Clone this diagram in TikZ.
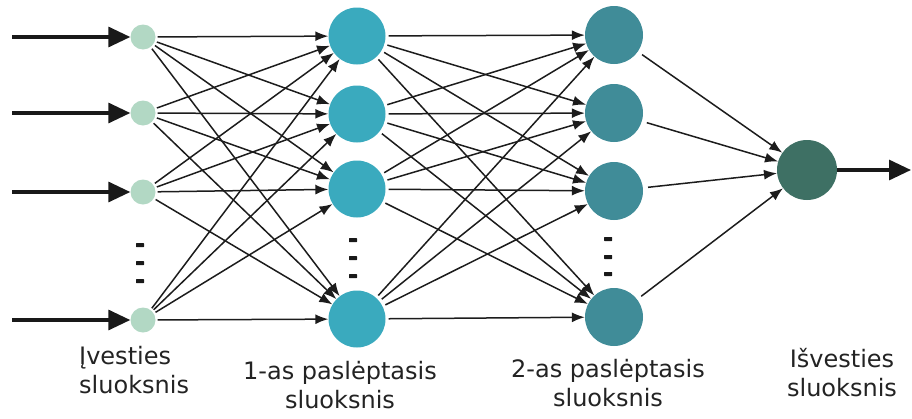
\documentclass[tikz,border=0pt]{standalone}
\usepackage{fontspec}
\setmainfont{DejaVu Sans}
\usetikzlibrary{arrows.meta}

\definecolor{inputcol}{RGB}{178,216,196}
\definecolor{hidonecol}{RGB}{58,170,190}
\definecolor{hidtwocol}{RGB}{64,140,152}
\definecolor{outcol}{RGB}{62,112,100}
\definecolor{edgecol}{RGB}{28,28,28}
\definecolor{labelcol}{RGB}{35,35,35}

\tikzset{
  neuron/.style={circle, draw=none, inner sep=0pt},
  innode/.style={neuron, fill=inputcol, minimum size=25pt},
  honenode/.style={neuron, fill=hidonecol, minimum size=57pt},
  htwonode/.style={neuron, fill=hidtwocol, minimum size=58pt},
  outnode/.style={neuron, fill=outcol, minimum size=60pt},
  conn/.style={draw=edgecol, line width=1.5pt, shorten <=2pt,
    -{Latex[length=13pt,width=10pt]}},
  bigarrow/.style={draw=black!90, line width=3.2pt,
    -{Triangle[length=22pt,width=20pt]}},
  ellipsisbar/.style={fill=black!90, minimum width=8pt, minimum height=4pt, inner sep=0pt, rectangle, rounded corners=0.5pt},
  lbl/.style={text=labelcol, font=\fontsize{24}{29}\selectfont, inner sep=0pt}
}

\begin{document}
\begin{tikzpicture}[x=1pt, y=-1pt]
  \useasboundingbox (0,0) rectangle (912,418);

  % input layer
  \node[innode] (i1) at (143,37) {};
  \node[innode] (i2) at (143,113) {};
  \node[innode] (i3) at (143,192) {};
  \node[innode] (i4) at (143,320) {};

  % first hidden layer
  \node[honenode] (a1) at (357,36) {};
  \node[honenode] (a2) at (357,114) {};
  \node[honenode] (a3) at (357,189) {};
  \node[honenode] (a4) at (357,319) {};

  % second hidden layer
  \node[htwonode] (b1) at (614,35) {};
  \node[htwonode] (b2) at (614,113) {};
  \node[htwonode] (b3) at (614,191) {};
  \node[htwonode] (b4) at (614,317) {};

  % output neuron
  \node[outnode] (o) at (807,170) {};

  % vertical ellipses
  \foreach \y [count=\k] in {245,263,281} \node[ellipsisbar] (di\k) at (140,\y) {};
  \foreach \y [count=\k] in {240,258,276} \node[ellipsisbar] (da\k) at (353,\y) {};
  \foreach \y [count=\k] in {239,257,274} \node[ellipsisbar] (db\k) at (608,\y) {};

  % external inputs
  \foreach \k/\y in {1/37,2/113,3/192,4/320} {
    \coordinate (s\k) at (12,\y);
    \draw[bigarrow] (s\k) -- (i\k.west);
  }

  % fully connected weights
  \foreach \p in {1,...,4}
    \foreach \q in {1,...,4} {
      \draw[conn] (i\p) -- (a\q);
      \draw[conn, shorten <=3pt] (a\p) -- (b\q);
    }
  \foreach \p in {1,...,4}
    \draw[conn, shorten <=5pt] (b\p) -- (o);

  % network output
  \coordinate (t) at (911,170);
  \draw[bigarrow] (o.east) -- (t);

  % layer captions
  \node[lbl, align=left, anchor=north west] (li) at (79,346) {Įvesties\\sluoksnis};
  \node[lbl, align=center, anchor=north] (la) at (340,361) {1-as paslėptasis\\sluoksnis};
  \node[lbl, align=center, anchor=north] (lb) at (608,359) {2-as paslėptasis\\sluoksnis};
  \node[lbl, align=center, anchor=north] (lo) at (842,348) {Išvesties\\sluoksnis};
\end{tikzpicture}
\end{document}
